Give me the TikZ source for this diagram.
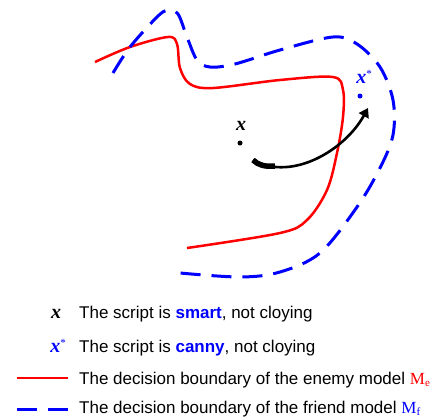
\documentclass[tikz,border=0pt]{standalone}
\usepackage{fontspec}
\setmainfont{Liberation Sans}
\newfontfamily\symfont{Liberation Serif}
\usetikzlibrary{arrows.meta}
\definecolor{friendblue}{RGB}{0,0,255}
\definecolor{enemyred}{RGB}{255,0,0}
\newcommand{\xvar}{{\symfont\bfseries\itshape x}}
\newcommand{\xstar}{{\symfont\bfseries\itshape x}\raisebox{0.55ex}{\symfont\fontsize{11}{11}\selectfont *}}
\newcommand{\msub}[1]{{\symfont M}\raisebox{-0.25ex}{\symfont\fontsize{11}{11}\selectfont #1}}

\begin{document}
\begin{tikzpicture}[x=1pt,y=-1pt,
  enemy/.style={enemyred,line width=2.5pt},
  friend/.style={friendblue,line width=3pt,dash pattern=on 20pt off 11pt},
  dot/.style={circle,fill,inner sep=0pt,minimum size=5pt},
  lbl/.style={font=\fontsize{20}{20}\selectfont},
  legtext/.style={anchor=base west,inner sep=0pt,font=\fontsize{17}{20}\selectfont}]
\useasboundingbox (0,0) rectangle (442,418);

% enemy boundary
\draw[enemy] plot[smooth,tension=0.55] coordinates {(95,62) (130,47) (168,37) (177,44)
  (180,68) (190,84) (213,88) (280,80) (333,77) (343,90) (343,117) (337,153)
  (327,190) (307,220) (280,233) (187,248)};
% friend boundary
\draw[friend] plot[smooth,tension=0.55] coordinates {(113,73) (130,47) (157,17) (168,10)
  (178,14) (187,37) (197,60) (210,67) (235,64) (280,50) (333,37) (357,44)
  (380,67) (393,100) (393,135) (380,168) (357,207) (320,253) (280,272)
  (240,277) (180,273)};

% points
\node[dot] (x) at (240,143) {};
\node[lbl,anchor=base] (xlab) at (241,130) {\xvar};
\node[dot,friendblue] (xs) at (360,96) {};
\node[lbl,anchor=base,text=friendblue] (xslab) at (364,83) {\xstar};

% move
\coordinate (tail) at (253,160);
\coordinate (head) at (368,108);
\draw[line width=5.5pt] (tail) .. controls (258,165) and (265,167) .. (275,166);
\draw[line width=2.6pt,-{Triangle[length=9pt,width=11pt]}] (tail) .. controls (292,182) and (345,150) .. (head);

% legend
\node[lbl,anchor=base] (k1) at (56,318) {\xvar};
\node[legtext] (t1) at (79,318) {The script is \textcolor{friendblue}{\textbf{smart}}, not cloying};
\node[lbl,anchor=base,text=friendblue] (k2) at (58,352) {\xstar};
\node[legtext] (t2) at (79,352) {The script is \textcolor{friendblue}{\textbf{canny}}, not cloying};
\coordinate (r1) at (17,378);
\coordinate (r2) at (68,378);
\draw[enemy] (r1) -- (r2);
\node[legtext] (t3) at (79,384) {The decision boundary of the enemy model \textcolor{enemyred}{\msub{e}}};
\coordinate (b1) at (17,409);
\coordinate (b2) at (68,409);
\draw[friend] (b1) -- (b2);
\node[legtext] (t4) at (79,413) {The decision boundary of the friend model \textcolor{friendblue}{\msub{f}}};
\end{tikzpicture}
\end{document}
